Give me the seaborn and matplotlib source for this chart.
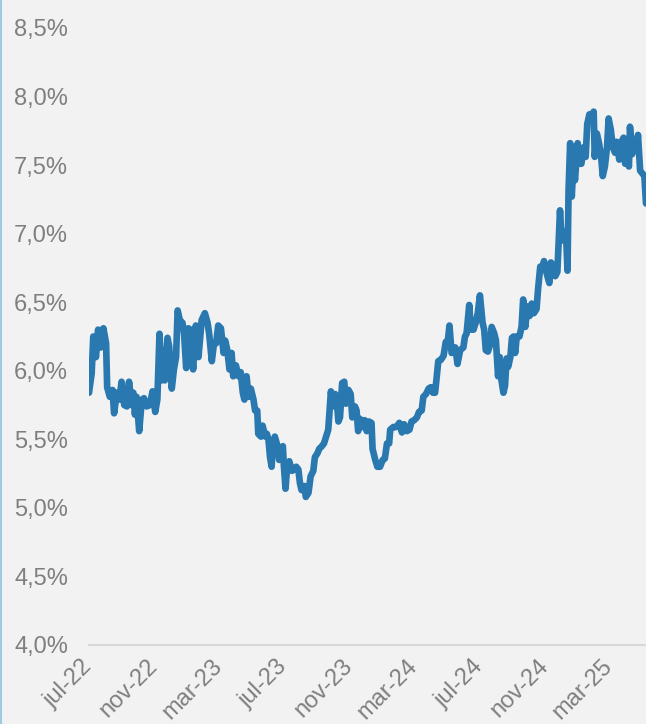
import numpy as np
import pandas as pd
import seaborn as sns
import matplotlib.pyplot as plt
import matplotlib.dates as mdates

# rate series: days since 2022-07-01 and value in %
days = [0, 5, 8, 13, 17, 22, 27, 32, 34, 39, 44, 47, 52, 57, 61, 66, 71, 75, 80, 83,
        86, 89, 94, 99, 103, 108, 114, 119, 124, 128, 132, 136, 139, 142, 147, 150, 155, 159, 163, 166,
        170, 175, 178, 182, 186, 190, 195, 200, 205, 211, 217, 222, 225, 230, 234, 238, 242, 247, 252, 255,
        259, 263, 267, 270, 275, 280, 284, 288, 291, 295, 299, 303, 308, 311, 315, 317, 322, 325, 330, 333,
        336, 339, 342, 344, 348, 353, 356, 359, 363, 365, 368, 371, 375, 380, 384, 388, 392, 395, 398, 403,
        406, 411, 415, 420, 423, 428, 431, 436, 440, 444, 448, 453, 456, 461, 464, 467, 470, 474, 478, 481,
        486, 490, 493, 498, 501, 504, 507, 512, 516, 520, 524, 529, 531, 536, 540, 545, 550, 554, 558, 562,
        564, 570, 576, 581, 586, 590, 595, 600, 604, 609, 614, 618, 623, 626, 631, 636, 640, 644, 648, 651,
        654, 659, 664, 668, 672, 675, 679, 686, 690, 695, 701, 704, 707, 712, 715, 720, 724, 728, 732, 737,
        740, 743, 747, 751, 754, 759, 762, 766, 769, 772, 776, 779, 782, 785, 789, 792, 795, 798, 801, 806,
        810, 813, 817, 821, 825, 829, 833, 838, 841, 845, 849, 852, 857, 862, 865, 870, 873, 877, 882, 885,
        890, 893, 896, 898, 901, 904, 907, 910, 915, 918, 922, 926, 930, 933, 937, 942, 945, 947, 951, 955,
        959, 962, 966, 970, 973, 977, 981, 985, 988, 993, 996, 1001, 1004, 1007, 1011, 1013, 1017, 1021, 1025, 1028,
        1032, 1036, 1040, 1043]
rate = [5.84, 5.98, 6.25, 6.10, 6.30, 6.17, 6.31, 6.20, 5.88, 5.81, 5.86, 5.69, 5.84, 5.79, 5.92, 5.75, 5.74, 5.92, 5.75, 5.84,
        5.68, 5.81, 5.56, 5.79, 5.80, 5.74, 5.75, 5.85, 5.70, 5.79, 6.27, 5.93, 6.15, 5.93, 6.24, 6.18, 5.87, 6.01, 6.10, 6.44,
        6.37, 6.35, 6.27, 6.02, 6.31, 6.30, 6.01, 6.33, 6.10, 6.37, 6.42, 6.35, 6.27, 6.07, 6.20, 6.20, 6.33, 6.31, 6.13, 6.22,
        6.15, 6.01, 6.13, 5.96, 6.04, 5.96, 5.99, 5.84, 5.79, 5.96, 5.81, 5.87, 5.79, 5.71, 5.71, 5.54, 5.52, 5.60, 5.52, 5.54,
        5.50, 5.37, 5.30, 5.47, 5.52, 5.45, 5.35, 5.43, 5.45, 5.30, 5.14, 5.30, 5.34, 5.27, 5.28, 5.30, 5.28, 5.18, 5.13, 5.16,
        5.08, 5.11, 5.23, 5.27, 5.37, 5.40, 5.43, 5.45, 5.47, 5.52, 5.57, 5.85, 5.74, 5.83, 5.78, 5.63, 5.66, 5.91, 5.92, 5.76,
        5.86, 5.83, 5.66, 5.74, 5.71, 5.56, 5.65, 5.59, 5.64, 5.56, 5.63, 5.62, 5.43, 5.35, 5.30, 5.30, 5.35, 5.36, 5.47, 5.47,
        5.57, 5.59, 5.59, 5.62, 5.55, 5.61, 5.56, 5.57, 5.63, 5.64, 5.66, 5.70, 5.71, 5.81, 5.83, 5.87, 5.88, 5.84, 5.84, 5.95,
        6.07, 6.08, 6.11, 6.21, 6.22, 6.33, 6.13, 6.17, 6.05, 6.15, 6.17, 6.25, 6.27, 6.48, 6.30, 6.30, 6.35, 6.42, 6.55, 6.35,
        6.30, 6.15, 6.14, 6.19, 6.32, 6.27, 6.22, 5.96, 6.10, 5.94, 5.84, 5.89, 6.09, 6.03, 6.10, 6.24, 6.25, 6.13, 6.25, 6.25,
        6.32, 6.52, 6.32, 6.47, 6.40, 6.49, 6.42, 6.45, 6.60, 6.76, 6.75, 6.80, 6.71, 6.64, 6.79, 6.76, 6.69, 6.72, 7.17, 6.95,
        6.97, 7.02, 6.73, 7.32, 7.66, 7.27, 7.51, 7.39, 7.66, 7.51, 7.51, 7.63, 7.56, 7.80, 7.87, 7.87, 7.89, 7.56, 7.73, 7.66,
        7.56, 7.42, 7.49, 7.63, 7.84, 7.76, 7.63, 7.59, 7.67, 7.54, 7.66, 7.70, 7.51, 7.58, 7.49, 7.78, 7.58, 7.63, 7.61, 7.72,
        7.46, 7.44, 7.42, 7.22]

tick_dates = ["2022-07-01", "2022-11-01", "2023-03-01", "2023-07-01", "2023-11-01",
              "2024-03-01", "2024-07-01", "2024-11-01", "2025-03-01"]
tick_labels = ["jul-22", "nov-22", "mar-23", "jul-23", "nov-23",
               "mar-24", "jul-24", "nov-24", "mar-25"]
y_ticks = [4.0, 4.5, 5.0, 5.5, 6.0, 6.5, 7.0, 7.5, 8.0, 8.5]

start = pd.Timestamp("2022-07-01")
df = pd.DataFrame({"fecha": start + pd.to_timedelta(days, unit="D"), "tasa": rate})

sns.set_style("white")
plt.rcParams["font.family"] = ["Liberation Sans", "DejaVu Sans"]

bg = "#f2f2f2"
grey = "#7f7f7f"

fig = plt.figure(figsize=(6.46, 7.24), dpi=100, facecolor=bg)
ax = fig.add_axes([89 / 646, 79 / 724, 557 / 646, 617 / 724])
ax.set_facecolor(bg)

sns.lineplot(data=df, x="fecha", y="tasa", ax=ax, color="#2a78b0", linewidth=4.8)

ax.set_xlim(start, df["fecha"].iloc[-1])
ax.set_ylim(4.0, 8.5)

ax.set_xticks([pd.Timestamp(d) for d in tick_dates])
ax.set_xticklabels(tick_labels, rotation=45, ha="right", va="center",
                   rotation_mode="anchor", fontsize=17, color=grey)
ax.set_yticks(y_ticks)
ax.set_yticklabels([f"{v:.1f}%".replace(".", ",") for v in y_ticks], fontsize=17, color=grey)

ax.tick_params(axis="x", length=5, width=1.5, color="#d9d9d9", pad=8)
ax.tick_params(axis="y", length=0, pad=15)

for s in ["top", "right", "left"]:
    ax.spines[s].set_visible(False)
ax.spines["bottom"].set_color("#d9d9d9")
ax.spines["bottom"].set_linewidth(1.5)

ax.set_xlabel("")
ax.set_ylabel("")

# thin blue border on the left edge
fig.add_artist(plt.Line2D([0.001, 0.001], [0, 1], color="#9ecae1", linewidth=1.5))

fig.savefig("out.png", dpi=100, facecolor=bg)
